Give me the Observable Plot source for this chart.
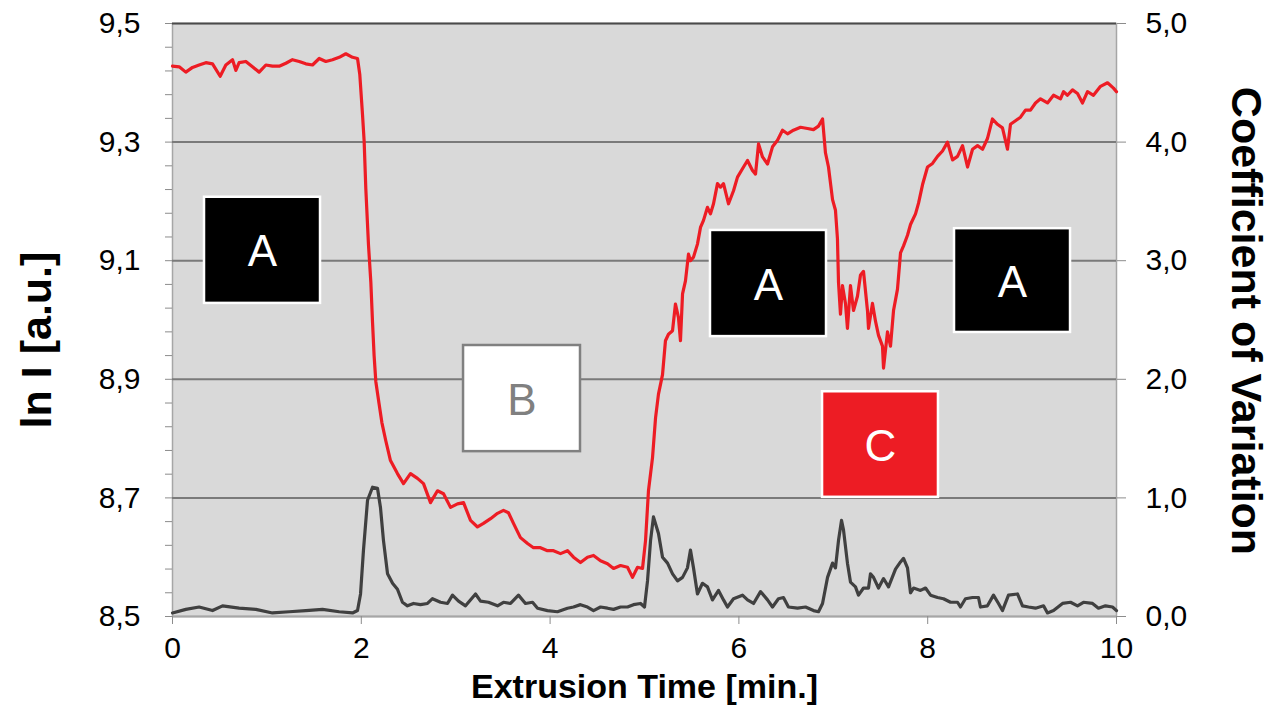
<!DOCTYPE html>
<html>
<head>
<meta charset="utf-8">
<script src="https://cdn.jsdelivr.net/npm/d3@7"></script>
<script src="https://cdn.jsdelivr.net/npm/@observablehq/plot@0.6"></script>
<style>
  html, body { margin: 0; padding: 0; background: #ffffff; }
  #chart { width: 1275px; height: 705px; }
</style>
</head>
<body>
<div id="chart"></div>
<script>
// ---- Data: ln I (left axis) vs extrusion time ----
const redTime = [0.000,0.071,0.141,0.212,0.282,0.353,0.424,0.505,0.565,0.636,0.671,0.706,0.777,0.847,0.918,0.989,1.059,1.130,1.201,1.271,1.342,1.412,1.483,1.554,1.624,1.695,1.766,1.836,1.907,1.960,1.984,2.013,2.030,2.048,2.076,2.101,2.119,2.136,2.154,2.189,2.218,2.260,2.309,2.383,2.447,2.521,2.595,2.659,2.733,2.807,2.871,2.945,3.019,3.083,3.157,3.231,3.294,3.369,3.443,3.506,3.559,3.612,3.686,3.761,3.824,3.898,3.972,4.036,4.110,4.184,4.248,4.322,4.396,4.460,4.534,4.608,4.672,4.746,4.820,4.873,4.926,4.979,5.011,5.042,5.085,5.117,5.148,5.191,5.222,5.254,5.297,5.328,5.360,5.381,5.403,5.434,5.466,5.487,5.519,5.561,5.593,5.625,5.667,5.699,5.731,5.773,5.805,5.837,5.890,5.943,5.985,6.049,6.091,6.144,6.176,6.208,6.250,6.303,6.356,6.409,6.462,6.515,6.578,6.653,6.727,6.790,6.843,6.886,6.917,6.949,6.992,7.023,7.044,7.055,7.076,7.097,7.129,7.150,7.182,7.214,7.256,7.288,7.320,7.362,7.373,7.415,7.447,7.479,7.521,7.532,7.574,7.606,7.638,7.680,7.712,7.744,7.786,7.818,7.871,7.903,7.945,7.998,8.051,8.104,8.157,8.210,8.263,8.316,8.369,8.422,8.475,8.528,8.581,8.633,8.686,8.739,8.792,8.845,8.877,8.930,8.983,9.036,9.089,9.142,9.195,9.269,9.333,9.407,9.439,9.481,9.534,9.587,9.640,9.693,9.756,9.831,9.905,9.968,10.000];
const lnI = [9.428,9.427,9.418,9.426,9.430,9.434,9.432,9.411,9.430,9.439,9.421,9.434,9.436,9.427,9.418,9.430,9.428,9.428,9.433,9.439,9.436,9.432,9.430,9.441,9.436,9.439,9.443,9.449,9.443,9.441,9.414,9.346,9.302,9.221,9.127,9.064,8.996,8.939,8.896,8.858,8.827,8.796,8.763,8.741,8.724,8.741,8.733,8.724,8.692,8.712,8.707,8.684,8.690,8.692,8.662,8.651,8.657,8.665,8.674,8.679,8.675,8.657,8.633,8.623,8.616,8.616,8.611,8.611,8.606,8.611,8.600,8.591,8.600,8.603,8.594,8.589,8.581,8.586,8.583,8.566,8.583,8.581,8.628,8.712,8.768,8.835,8.875,8.908,8.965,8.976,8.982,9.027,9.004,8.965,9.044,9.066,9.111,9.100,9.106,9.128,9.156,9.168,9.190,9.179,9.196,9.230,9.224,9.230,9.196,9.218,9.241,9.258,9.269,9.252,9.246,9.297,9.275,9.263,9.292,9.303,9.320,9.314,9.320,9.325,9.323,9.321,9.327,9.339,9.282,9.258,9.203,9.185,9.137,9.064,9.010,9.058,9.028,8.986,9.058,9.016,9.040,9.076,9.082,9.016,8.986,9.028,8.998,8.974,8.956,8.919,8.980,8.956,9.016,9.052,9.113,9.125,9.143,9.161,9.179,9.197,9.228,9.258,9.264,9.276,9.285,9.300,9.270,9.276,9.294,9.258,9.288,9.294,9.288,9.306,9.339,9.330,9.324,9.288,9.330,9.336,9.342,9.354,9.354,9.366,9.373,9.366,9.379,9.373,9.385,9.379,9.388,9.382,9.366,9.385,9.379,9.394,9.400,9.391,9.385];

// ---- Data: coefficient of variation (right axis) vs extrusion time ----
const covTime = [0.000,0.141,0.282,0.424,0.530,0.706,0.883,1.059,1.236,1.412,1.589,1.766,1.907,1.960,1.992,2.023,2.066,2.119,2.172,2.203,2.235,2.278,2.331,2.383,2.436,2.489,2.553,2.627,2.701,2.754,2.839,2.913,2.966,3.030,3.104,3.210,3.263,3.347,3.443,3.506,3.581,3.665,3.739,3.814,3.867,3.972,4.078,4.184,4.248,4.322,4.396,4.460,4.534,4.608,4.672,4.746,4.820,4.883,4.958,5.000,5.032,5.064,5.095,5.148,5.191,5.244,5.297,5.350,5.403,5.455,5.487,5.519,5.561,5.614,5.667,5.720,5.784,5.837,5.879,5.943,6.038,6.091,6.155,6.229,6.303,6.356,6.419,6.472,6.525,6.621,6.706,6.790,6.843,6.886,6.939,6.992,7.023,7.055,7.087,7.108,7.150,7.182,7.235,7.267,7.320,7.373,7.394,7.426,7.479,7.532,7.585,7.659,7.712,7.744,7.786,7.818,7.850,7.924,7.977,8.030,8.104,8.167,8.242,8.316,8.347,8.400,8.475,8.538,8.559,8.633,8.697,8.750,8.792,8.856,8.951,9.004,9.068,9.142,9.227,9.269,9.333,9.428,9.513,9.587,9.650,9.746,9.809,9.883,9.958,10.000];
const cov = [0.03,0.06,0.08,0.05,0.09,0.07,0.06,0.03,0.04,0.05,0.06,0.04,0.03,0.05,0.19,0.56,0.98,1.09,1.08,0.92,0.64,0.36,0.28,0.23,0.12,0.09,0.11,0.10,0.11,0.15,0.12,0.11,0.18,0.13,0.09,0.19,0.13,0.12,0.09,0.12,0.11,0.18,0.11,0.12,0.07,0.05,0.04,0.07,0.08,0.10,0.08,0.05,0.08,0.07,0.06,0.08,0.08,0.10,0.11,0.08,0.30,0.64,0.84,0.70,0.50,0.45,0.36,0.30,0.33,0.41,0.56,0.41,0.19,0.28,0.25,0.14,0.22,0.14,0.08,0.15,0.18,0.14,0.11,0.21,0.14,0.08,0.15,0.16,0.08,0.07,0.08,0.05,0.04,0.11,0.33,0.45,0.41,0.64,0.81,0.73,0.45,0.29,0.25,0.18,0.24,0.24,0.36,0.33,0.24,0.32,0.25,0.40,0.46,0.49,0.41,0.20,0.24,0.22,0.24,0.18,0.16,0.15,0.12,0.12,0.08,0.15,0.16,0.16,0.08,0.09,0.18,0.11,0.05,0.18,0.19,0.09,0.08,0.07,0.09,0.03,0.05,0.11,0.12,0.09,0.12,0.11,0.07,0.09,0.08,0.05];

// ---- Axes ----
const xTicks = [0, 2, 4, 6, 8, 10];
const lnTicks = [8.5, 8.7, 8.9, 9.1, 9.3, 9.5];
const lnMinorTicks = [8.54,8.58,8.62,8.66,8.74,8.78,8.82,8.86,8.94,8.98,9.02,9.06,9.14,9.18,9.22,9.26,9.34,9.38,9.42,9.46];
const covTicks = [0, 1, 2, 3, 4, 5];
const gridValues = [8.7, 8.9, 9.1, 9.3];

// ---- Annotation boxes (label, extent in data units) ----
const boxLabels = ["A", "A", "A", "B", "C"];
const boxX1 = [0.339, 5.699, 8.284, 3.083, 6.886];
const boxX2 = [1.568, 6.928, 9.513, 4.322, 8.114];
const boxY1 = [9.028, 8.972, 8.979, 8.778, 8.701];
const boxY2 = [9.207, 9.151, 9.154, 8.957, 8.879];
const boxFill = ["#000000", "#000000", "#000000", "#ffffff", "#ed1c24"];
const boxStroke = ["#ffffff", "#ffffff", "#ffffff", "#808080", "#ffffff"];
const boxText = ["#ffffff", "#ffffff", "#ffffff", "#808080", "#ffffff"];

// cov 0..5 shares the frame with ln I 8.5..9.5
const covToY = c => 8.5 + c / 5;
const fmt = d => d.toFixed(1).replace(".", ",");

const redData = redTime.map((t, i) => ({t, v: lnI[i]}));
const covData = covTime.map((t, i) => ({t, v: cov[i]}));
const boxes = boxLabels.map((label, i) => ({
  label, x1: boxX1[i], x2: boxX2[i], y1: boxY1[i], y2: boxY2[i],
  fill: boxFill[i], stroke: boxStroke[i], text: boxText[i]
}));

const FONT = "'Liberation Sans', Arial, Helvetica, sans-serif";

const chart = Plot.plot({
  width: 1275,
  height: 705,
  marginLeft: 172,
  marginRight: 159,
  marginTop: 23,
  marginBottom: 89,
  style: {fontFamily: FONT, background: "#ffffff", color: "#000000"},
  x: {domain: [0, 10]},
  y: {domain: [8.5, 9.5]},
  marks: [
    Plot.frame({fill: "#d9d9d9", stroke: "#a6a6a6", strokeWidth: 1.5}),
    Plot.ruleY(gridValues, {stroke: "#7a7a7a", strokeWidth: 2}),
    Plot.ruleY([9.5], {stroke: "#4a4a4a", strokeWidth: 2}),
    Plot.ruleY([8.5], {stroke: "#a6a6a6", strokeWidth: 2}),
    // left axis
    Plot.axisY({ticks: lnMinorTicks, tickFormat: () => "", tickSize: 7, stroke: "#8c8c8c"}),
    Plot.axisY({ticks: lnTicks, tickFormat: fmt, tickSize: 7, tickPadding: 25, fontSize: 30, stroke: "#8c8c8c", label: null}),
    // right axis
    Plot.axisY({anchor: "right", ticks: covTicks.map(covToY), tickFormat: d => fmt((d - 8.5) * 5),
      tickSize: 9, tickPadding: 20, fontSize: 30, stroke: "#8c8c8c", label: null}),
    // x axis
    Plot.axisX({ticks: xTicks, tickFormat: d => String(d), tickSize: 8, tickPadding: 12, fontSize: 30, stroke: "#8c8c8c", label: null}),
    // series
    Plot.line(covData, {x: "t", y: d => covToY(d.v), stroke: "#404040", strokeWidth: 3.2, strokeLinejoin: "round"}),
    Plot.line(redData, {x: "t", y: "v", stroke: "#ed1c24", strokeWidth: 3.2, strokeLinejoin: "round"}),
    // annotation boxes
    Plot.rect(boxes, {x1: "x1", x2: "x2", y1: "y1", y2: "y2", fill: "fill", stroke: "stroke", strokeWidth: 2.5}),
    Plot.text(boxes, {x: d => (d.x1 + d.x2) / 2, y: d => (d.y1 + d.y2) / 2, text: "label", fill: "text", fontSize: 44, dy: 2}),
    // axis titles
    Plot.text(["ln I [a.u.]"], {frameAnchor: "left", textAnchor: "middle", lineAnchor: "middle", dx: -135, dy: 20, rotate: -90, fontSize: 43, fontWeight: "bold", fill: "#000"}),
    Plot.text(["Coefficient of Variation"], {frameAnchor: "right", textAnchor: "middle", lineAnchor: "middle", dx: 129, dy: 1, rotate: 90, fontSize: 43, fontWeight: "bold", fill: "#000"}),
    Plot.text(["Extrusion Time [min.]"], {frameAnchor: "bottom", textAnchor: "middle", lineAnchor: "middle", dy: 71, fontSize: 34, fontWeight: "bold", fill: "#000"})
  ]
});
document.getElementById("chart").appendChild(chart);
</script>
</body>
</html>
